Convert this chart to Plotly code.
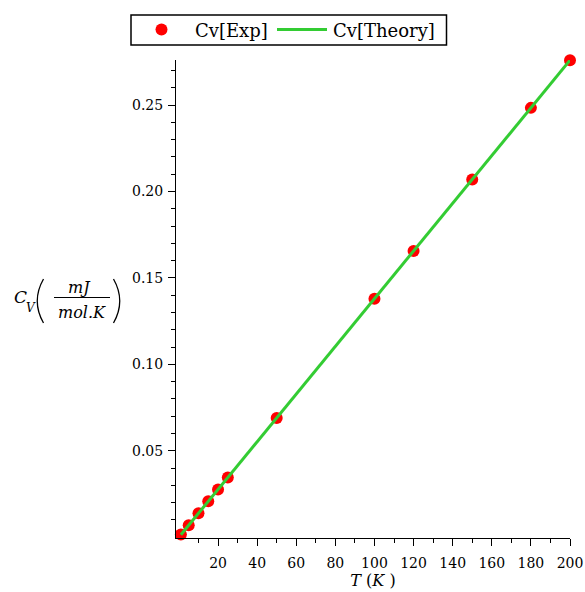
import plotly.graph_objects as go

# ---- data ----
T_exp = [1, 5, 10, 15, 20, 25, 50, 100, 120, 150, 180, 200]
Cv_exp = [0.0015, 0.0069, 0.0138, 0.0207, 0.0276, 0.0345, 0.0690, 0.1380, 0.1656, 0.2070, 0.2484, 0.2760]
T_theory = [1, 5, 10, 15, 20, 25, 50, 100, 120, 150, 180, 200]
Cv_theory = [0.00138, 0.0069, 0.0138, 0.0207, 0.0276, 0.0345, 0.0690, 0.1380, 0.1656, 0.2070, 0.2484, 0.2760]
series_names = ["Cv[Exp]", "Cv[Theory]"]
x_ticks = [20, 40, 60, 80, 100, 120, 140, 160, 180, 200]
x_minor = [10, 30, 50, 70, 90, 110, 130, 150, 170, 190]
y_ticks = [0.05, 0.10, 0.15, 0.20, 0.25]
y_tick_labels = ["0.05", "0.10", "0.15", "0.20", "0.25"]
y_minor = [0.01, 0.02, 0.03, 0.04, 0.06, 0.07, 0.08, 0.09, 0.11, 0.12, 0.13, 0.14,
           0.16, 0.17, 0.18, 0.19, 0.21, 0.22, 0.23, 0.24, 0.26, 0.27]

FONT = "DejaVu Serif"
RED = "#ff0000"
GREEN = "#33cc33"
WIDTH, HEIGHT = 585, 592
L, R, T, B = 176, 570, 60, 538
PW, PH = R - L, B - T


def px(x):
    return (x - L) / PW


def py(y):
    return (B - y) / PH


fig = go.Figure()
fig.add_trace(go.Scatter(
    x=T_exp, y=Cv_exp, mode="markers", name=series_names[0],
    marker=dict(color=RED, size=12), cliponaxis=False, showlegend=False))
fig.add_trace(go.Scatter(
    x=T_theory, y=Cv_theory, mode="lines", name=series_names[1],
    line=dict(color=GREEN, width=3), cliponaxis=False, showlegend=False))

axis_common = dict(showline=True, linecolor="black", linewidth=1, ticks="outside",
                   ticklen=7, tickcolor="black", showgrid=False, zeroline=False,
                   automargin=False,
                   tickfont=dict(family=FONT, size=14, color="black"))

fig.update_xaxes(range=[-1.5, 200], tickmode="array", tickvals=x_ticks,
                 minor=dict(tickmode="array", tickvals=x_minor, ticks="outside",
                            ticklen=4, tickcolor="black"),
                 ticklabelstandoff=5,
                 title=dict(text="<i>T</i> (<i>K</i> )", font=dict(family=FONT, size=16, color="black"),
                            standoff=1),
                 **axis_common)
fig.update_yaxes(range=[-0.0005, 0.2761], tickmode="array", tickvals=y_ticks, ticktext=y_tick_labels,
                 minor=dict(tickmode="array", tickvals=y_minor, ticks="outside",
                            ticklen=4, tickcolor="black"),
                 ticklabelstandoff=2,
                 **axis_common)

ann = []
# y-axis label: C_V ( mJ / mol.K )
ann.append(dict(text="<i>C</i>", x=px(20.5), y=py(297), font=dict(size=17)))
ann.append(dict(text="<i>V</i>", x=px(31), y=py(308), font=dict(size=12)))
ann.append(dict(text="<i>mJ</i>", x=px(79), y=py(287), font=dict(size=16)))
ann.append(dict(text="<i>mol.K</i>", x=px(81.5), y=py(312), font=dict(size=16)))
# legend texts
ann.append(dict(text=series_names[0], x=px(193), y=py(30), font=dict(size=18), xanchor="left"))
ann.append(dict(text=series_names[1], x=px(331), y=py(30), font=dict(size=18), xanchor="left"))
for a in ann:
    a.setdefault("xanchor", "center")
    a.update(xref="paper", yref="paper", showarrow=False, yanchor="middle")
    a["font"].update(family=FONT, color="black")

shapes = []
# fraction bar
shapes.append(dict(type="line", xref="paper", yref="paper", x0=px(54), x1=px(110),
                   y0=py(297.5), y1=py(297.5), line=dict(color="black", width=1)))
# parentheses
lp = f"M {px(43.5)},{py(279)} Q {px(31)},{py(301)} {px(43.5)},{py(323)}"
rp = f"M {px(113.5)},{py(279)} Q {px(126)},{py(301)} {px(113.5)},{py(323)}"
for p in (lp, rp):
    shapes.append(dict(type="path", xref="paper", yref="paper", path=p,
                       line=dict(color="black", width=1.3)))
# legend box, marker and line sample
shapes.append(dict(type="rect", xref="paper", yref="paper", x0=px(131), x1=px(446.5),
                   y0=py(15), y1=py(45), line=dict(color="black", width=1.5),
                   fillcolor="white", layer="above"))
shapes.append(dict(type="circle", xref="paper", yref="paper", x0=px(155.5), x1=px(167.5),
                   y0=py(23.5), y1=py(35.5), line=dict(color=RED, width=0),
                   fillcolor=RED, layer="above"))
shapes.append(dict(type="line", xref="paper", yref="paper", x0=px(277), x1=px(327),
                   y0=py(29.5), y1=py(29.5), line=dict(color=GREEN, width=3), layer="above"))

fig.update_layout(
    width=WIDTH, height=HEIGHT,
    margin=dict(l=L, r=WIDTH - R, t=T, b=HEIGHT - B, autoexpand=False),
    paper_bgcolor="white", plot_bgcolor="white",
    showlegend=False,
    annotations=ann, shapes=shapes,
)

fig.write_html("out.html")
